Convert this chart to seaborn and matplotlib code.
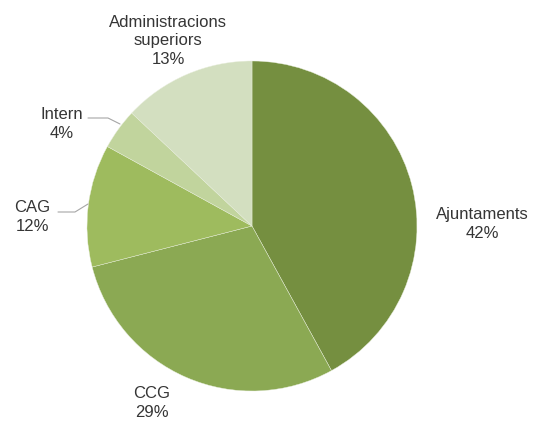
import matplotlib
matplotlib.use('Agg')
import matplotlib.pyplot as plt
import seaborn as sns

# pie data, clockwise from 12 o'clock
categories = ['Ajuntaments', 'CCG', 'CAG', 'Intern', 'Administracions\nsuperiors']
shares = [42, 29, 12, 4, 13]
colors = ['#758F40', '#8BA953', '#9EBB5E', '#C1D49D', '#D3DFC0']

sns.set_theme(style='white')
plt.rcParams['font.family'] = ['Liberation Sans', 'DejaVu Sans']

W, H = 535, 427
fig = plt.figure(figsize=(5.35, 4.27), dpi=100)
ax = fig.add_axes([0, 0, 1, 1])

wedges, _ = ax.pie(shares, colors=colors, startangle=90, counterclock=False,
                   center=(252, H - 227), radius=165, frame=True,
                   wedgeprops=dict(edgecolor='#E8EEDC', linewidth=0.3))
ax.set_xlim(0, W)
ax.set_ylim(0, H)
ax.set_aspect('equal')
ax.axis('off')

txt = dict(fontsize=12, color='#353535', ha='center', va='center', linespacing=1.32)
# label centres in pixel coords from top-left
label_pos = {
    'Ajuntaments': (482, 224),
    'CCG': (152, 403),
    'CAG': (32, 217),
    'Intern': (62, 124),
    'Administracions\nsuperiors': (168, 41),
}
for name, s in zip(categories, shares):
    x, y = label_pos[name]
    ax.text(x, H - y, f'{name}\n{s}%', **txt)

# leader lines for the small slices
ax.plot([88, 108, 120], [H - 119, H - 119, H - 125], color='#A6A6A6', lw=0.8)
ax.plot([58, 75, 88], [H - 213, H - 213, H - 205], color='#A6A6A6', lw=0.8)

fig.savefig('out.png', dpi=100, facecolor='white')
